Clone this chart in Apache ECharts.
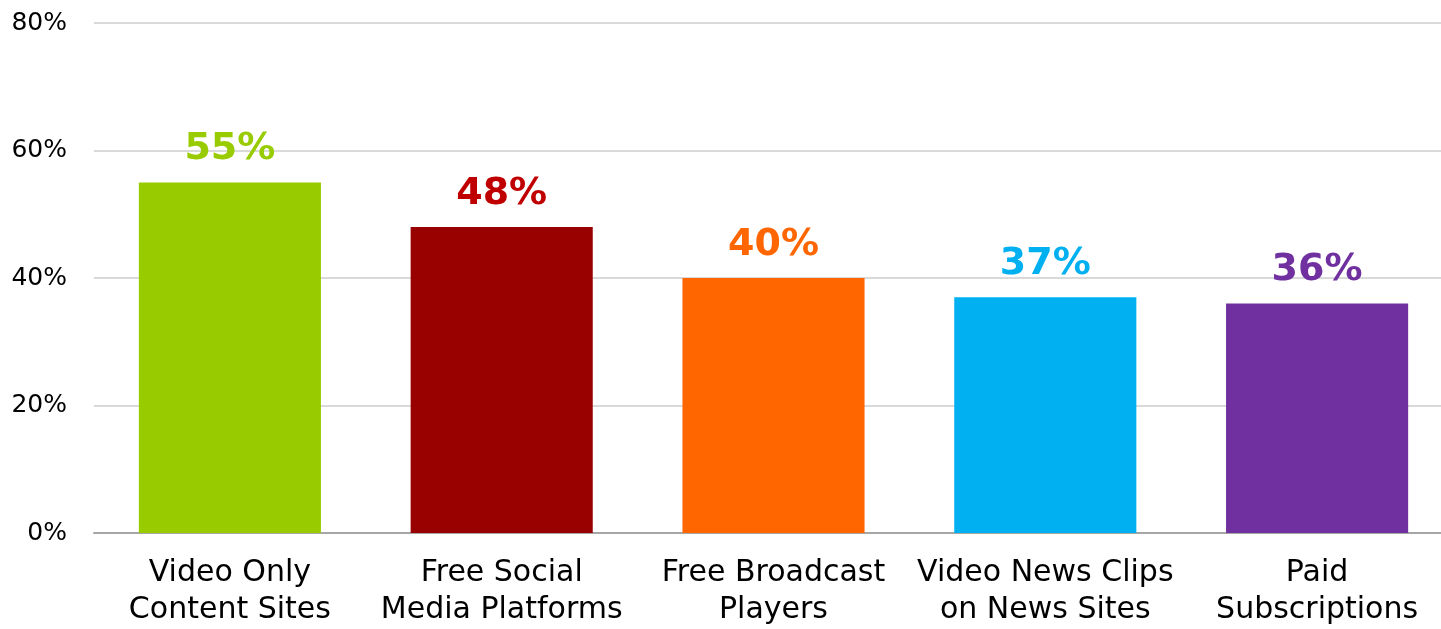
<!DOCTYPE html>
<html>
<head>
<meta charset="utf-8">
<script src="https://cdn.jsdelivr.net/npm/echarts@6/dist/echarts.min.js"></script>
<style>
  html, body { margin: 0; padding: 0; background: #ffffff; overflow: hidden; }
  /* the plot runs slightly past the right edge of the window */
  #chart { width: 1453px; height: 629px; }
</style>
</head>
<body>
<div id="chart"></div>
<script>
// Platform categories and share of respondents (percent)
const categories = [
  'Video Only\nContent Sites',
  'Free Social\nMedia Platforms',
  'Free Broadcast\nPlayers',
  'Video News Clips\non News Sites',
  'Paid\nSubscriptions'
];
const values = [55, 48, 40, 37, 36];
const barColors = ['#99CC00', '#990000', '#FF6600', '#00B0F0', '#7030A0'];
const labelColors = ['#99CC00', '#C00000', '#FF6600', '#00B0F0', '#7030A0'];
const yTicks = [0, 20, 40, 60, 80];

const FONT = '"DejaVu Sans", sans-serif';

const chart = echarts.init(document.getElementById('chart'));
chart.setOption({
  animation: false,
  grid: { left: 94, right: 0, top: 23, bottom: 94, containLabel: false },
  xAxis: {
    type: 'category',
    data: categories,
    axisLine: { lineStyle: { color: '#A6A6A6', width: 2 } },
    axisTick: { show: false },
    axisLabel: {
      color: '#000000',
      fontFamily: FONT,
      fontSize: 30,
      lineHeight: 37,
      margin: 22,
      interval: 0
    }
  },
  yAxis: {
    type: 'value',
    min: yTicks[0],
    max: yTicks[yTicks.length - 1],
    interval: 20,
    axisLine: { show: false },
    axisTick: { show: false },
    splitLine: { lineStyle: { color: '#D9D9D9', width: 2 } },
    axisLabel: {
      color: '#000000',
      fontFamily: FONT,
      fontSize: 25,
      margin: 27,
      formatter: v => v + '%'
    }
  },
  series: [{
    type: 'bar',
    barWidth: '67%',
    z: 2,
    data: values.map((v, i) => ({
      value: v,
      itemStyle: { color: barColors[i] },
      label: { color: labelColors[i] }
    })),
    label: {
      show: true,
      position: 'top',
      distance: 14,
      fontFamily: FONT,
      fontWeight: 'bold',
      fontSize: 38,
      formatter: p => p.value + '%'
    }
  }]
});
</script>
</body>
</html>
